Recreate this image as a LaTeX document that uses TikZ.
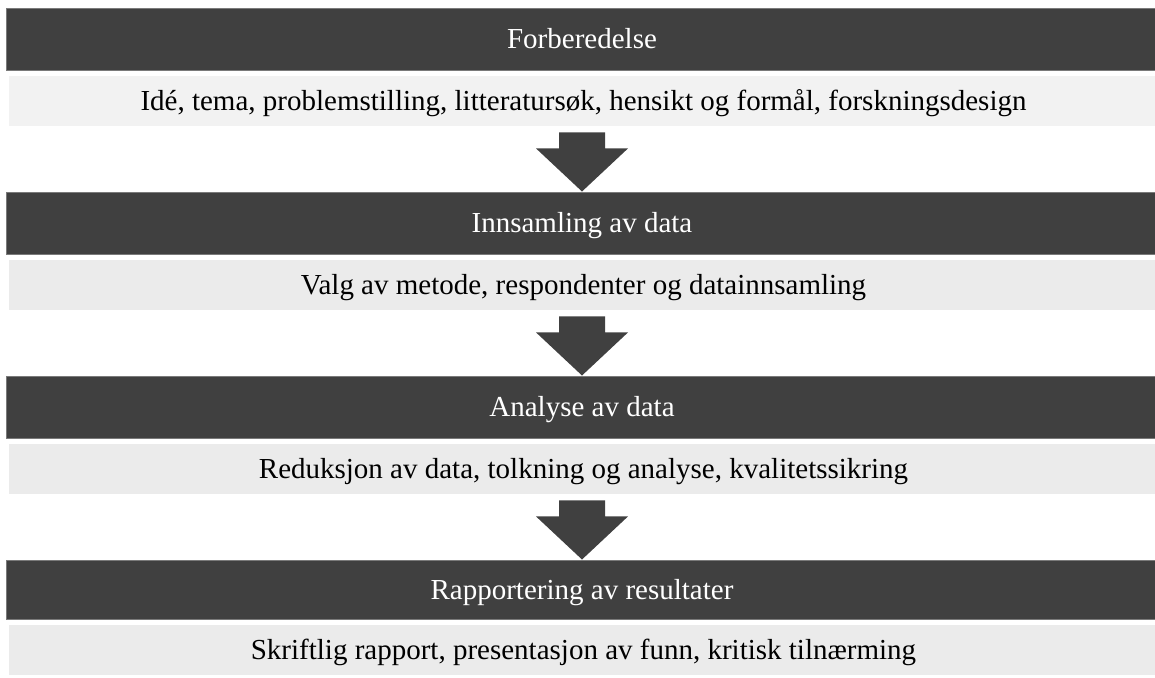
\documentclass[tikz,border=0pt]{standalone}
\usepackage{fontspec}
\setmainfont{Liberation Serif}
\usetikzlibrary{calc}
\definecolor{barDark}{HTML}{404040}
\definecolor{barEdge}{HTML}{7A7A7A}
\definecolor{barLight}{HTML}{EBEBEB}
\definecolor{barFirst}{HTML}{F2F2F2}

\begin{document}
\begin{tikzpicture}[x=0.5pt,y=-0.5pt,
  fase/.style={fill=barDark,draw=barEdge,line width=0.5pt,text=white,minimum width=576pt,minimum height=31pt,inner sep=0pt,text height=9.6pt,text depth=0pt,font=\fontsize{14.5}{17}\selectfont},
  innhold/.style={fill=barLight,minimum width=574.5pt,minimum height=25pt,inner sep=0pt,text height=9.6pt,text depth=0pt,font=\fontsize{14.5}{17}\selectfont}]
\useasboundingbox (0,0) rectangle (1155,677);
\node[fase] (f1) at (582,39) {Forberedelse};
\node[innhold,fill=barFirst] (t1) at (583.5,101) {Idé, tema, problemstilling, litteratursøk, hensikt og formål, forskningsdesign};
\node[fase] (f2) at (582,223) {Innsamling av data};
\node[innhold] (t2) at (583.5,285) {Valg av metode, respondenter og datainnsamling};
\node[fase] (f3) at (582,407) {Analyse av data};
\node[innhold] (t3) at (583.5,469) {Reduksjon av data, tolkning og analyse, kvalitetssikring};
\node[fase,minimum height=29.5pt] (f4) at (582,589.5) {Rapportering av resultater};
\node[innhold] (t4) at (583.5,649.5) {Skriftlig rapport, presentasjon av funn, kritisk tilnærming};
% blokkpiler mellom fasene
\foreach \a/\b in {t1/f2,t2/f3,t3/f4}
  \fill[barDark] ($(\a.south -| \b.north)+(-23,6)$) -- ($(\a.south -| \b.north)+(23,6)$)
    -- ($(\a.south -| \b.north)+(23,22)$) -- ($(\a.south -| \b.north)+(46,22)$) -- (\b.north)
    -- ($(\a.south -| \b.north)+(-46,22)$) -- ($(\a.south -| \b.north)+(-23,22)$) -- cycle;
\end{tikzpicture}
\end{document}
